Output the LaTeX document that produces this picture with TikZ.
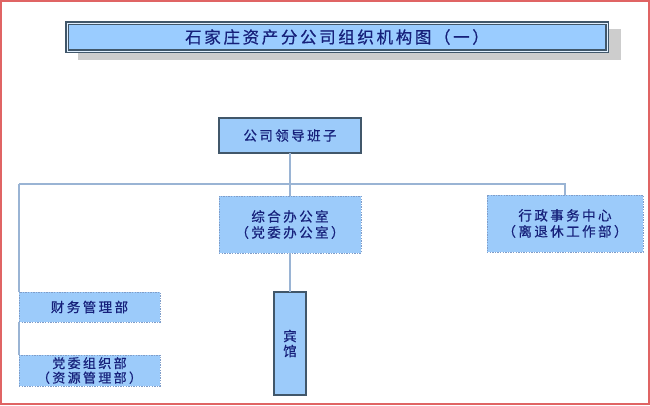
\documentclass[tikz,border=0pt]{standalone}
\usepackage{fontspec}
\setmainfont{Liberation Sans}
\newfontfamily\cjk[LetterSpace=18,FakeBold=0.6]{Noto Sans CJK SC}
\newfontfamily\cjktitle[LetterSpace=16,FakeBold=0.6]{Noto Sans CJK SC}
\definecolor{framered}{HTML}{E06464}
\definecolor{boxfill}{HTML}{9CCBFA}
\definecolor{titlefill}{HTML}{9ACCFF}
\definecolor{solidedge}{HTML}{41576A}
\definecolor{dashedge}{HTML}{7F9DC9}
\definecolor{linkblue}{HTML}{9AB4D4}
\definecolor{navytext}{HTML}{16207A}
\definecolor{shadowgray}{HTML}{CDCDCD}
\begin{document}
\begin{tikzpicture}[x=1pt,y=-1pt,
  every node/.style={inner sep=0pt, outer sep=0pt, align=center, text=navytext},
  solidbox/.style={draw=solidedge, line width=1.2pt, fill=boxfill, rectangle},
  dashbox/.style={draw=dashedge, line width=0.9pt, dash pattern=on 1.4pt off 1.2pt, fill=boxfill, rectangle},
  conn/.style={draw=linkblue, line width=1.2pt},
  lbl/.style={font=\cjk\fontsize{13.5}{16}\selectfont}
]
\useasboundingbox (0,0) rectangle (650,405);
\fill[white] (0,0) rectangle (650,405);
\draw[framered, line width=1.6pt] (1,1) rectangle (649,404);

% title
\fill[shadowgray] (78,29) rectangle (621,60);
\node[fill=titlefill, draw=solidedge, line width=1.6pt, double=white!70!titlefill, double distance=0.8pt,
      minimum width=540, minimum height=28, font=\cjktitle\fontsize{16.5}{18}\selectfont] (title) at (337,37) {石家庄资产分公司组织机构图（一）};

% nodes
\node[solidbox, minimum width=142, minimum height=35, lbl] (lead) at (290,135.5) {公司领导班子};
\node[dashbox, minimum width=142, minimum height=57, lbl] (zonghe) at (290,224.5) {综合办公室\\（党委办公室）};
\node[dashbox, minimum width=156, minimum height=57, lbl] (xingzheng) at (565,223.5) {行政事务中心\\（离退休工作部）};
\node[dashbox, minimum width=141, minimum height=30, lbl] (caiwu) at (89.5,307) {财务管理部};
\node[dashbox, minimum width=141, minimum height=31, font=\cjk\fontsize{13}{14.5}\selectfont] (dangwei) at (89.5,370.5) {党委组织部\\（资源管理部）};
\node[solidbox, minimum width=32, minimum height=103, font=\cjk\fontsize{13.5}{15}\selectfont] (binguan) at (290,343.5) {宾\\馆};

% connectors
\coordinate (hub) at (290,184);
\coordinate (lc) at (19,184);
\coordinate (rc) at (565,184);
\draw[conn] (lead.south) -- (hub) -- (zonghe.north);
\draw[conn] (zonghe.south) -- (binguan.north);
\draw[conn] (lc) -- (rc) -- (xingzheng.north);
\draw[conn] (lc) -- (caiwu.north west);
\draw[conn] (caiwu.south west) -- (dangwei.north west);
\end{tikzpicture}
\end{document}
